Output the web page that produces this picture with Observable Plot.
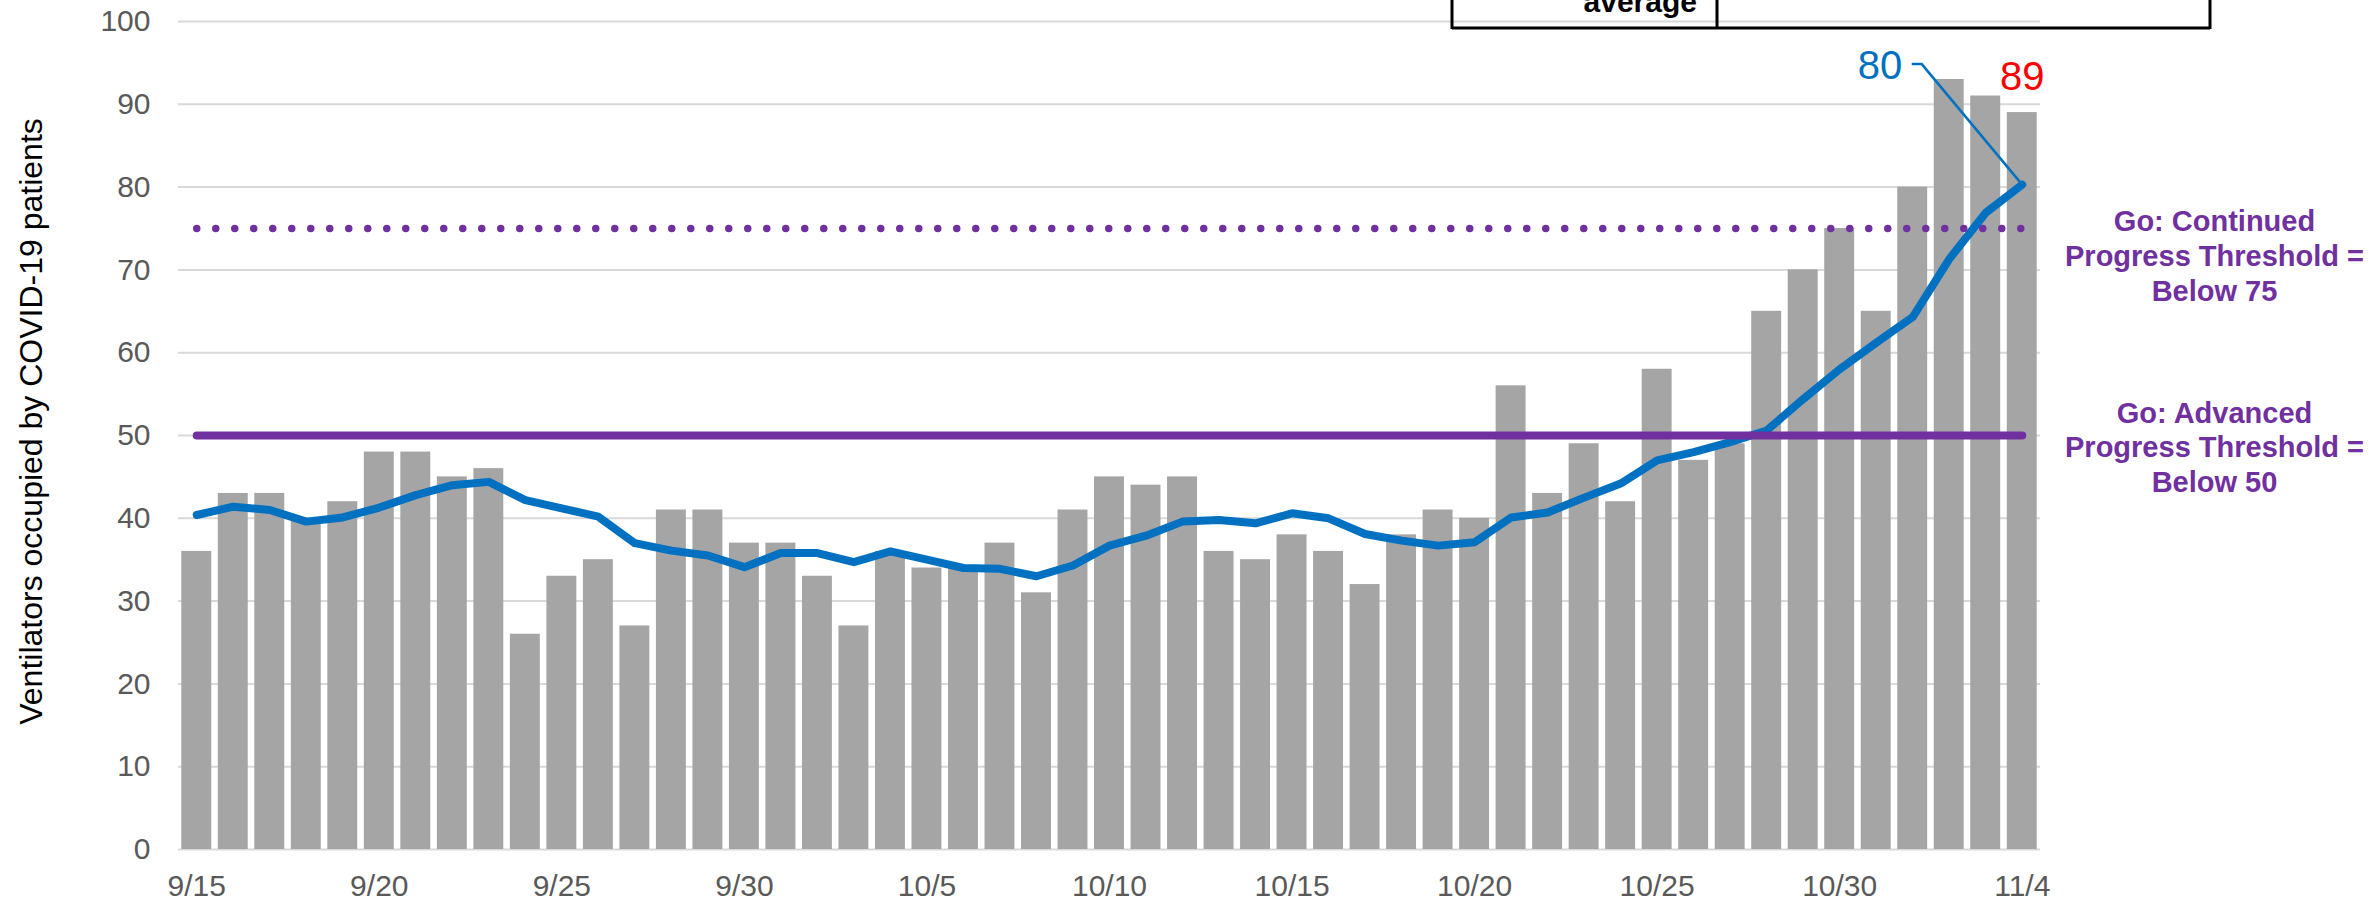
<!DOCTYPE html>
<html><head><meta charset="utf-8">
<script src="https://cdn.jsdelivr.net/npm/d3@7"></script>
<script src="https://cdn.jsdelivr.net/npm/@observablehq/plot@0.6"></script>
<style>
html,body{margin:0;padding:0;background:#fff;}
#chart{position:relative;width:2369px;height:902px;overflow:hidden;}
</style></head><body><div id="chart"></div>
<script>
const dates = ["9/15","9/16","9/17","9/18","9/19","9/20","9/21","9/22","9/23","9/24","9/25","9/26","9/27","9/28","9/29","9/30",
  "10/1","10/2","10/3","10/4","10/5","10/6","10/7","10/8","10/9","10/10","10/11","10/12","10/13","10/14","10/15","10/16",
  "10/17","10/18","10/19","10/20","10/21","10/22","10/23","10/24","10/25","10/26","10/27","10/28","10/29","10/30","10/31",
  "11/1","11/2","11/3","11/4"];
const ventilators = [36,43,43,40,42,48,48,45,46,26,33,35,27,41,41,37,
  37,33,27,36,34,34,37,31,41,45,44,45,36,35,38,36,
  32,38,41,40,56,43,49,42,58,47,49,65,70,75,65,
  80,93,91,89];
const movingAverage = [40.4,41.4,41.0,39.6,40.1,41.3,42.8,44.0,44.4,42.2,41.2,40.2,37.0,36.1,35.5,34.1,
  35.8,35.8,34.7,36.0,35.0,34.0,33.9,33.0,34.3,36.7,37.9,39.6,39.8,39.4,40.6,40.0,
  38.1,37.3,36.7,37.1,40.1,40.7,42.5,44.2,47.0,48.0,49.2,50.6,54.4,58.0,61.2,
  64.3,71.3,76.9,80.3];
const xTickLabels = ["9/15","9/20","9/25","9/30","10/5","10/10","10/15","10/20","10/25","10/30","11/4"];
const yTicks = [0,10,20,30,40,50,60,70,80,90,100];
const continuedThreshold = 75;
const advancedThreshold = 50;
const yLabel = "Ventilators occupied by COVID-19 patients";
const annotationTexts = ["Go: Continued\nProgress Threshold =\nBelow 75", "Go: Advanced\nProgress Threshold =\nBelow 50"];
const annotationY = [71.8, 48.7];
const legendText = "average";

const data = dates.map((d, i) => ({date: d, value: ventilators[i], avg: movingAverage[i]}));
const last = data[data.length - 1];

const chart = Plot.plot({
  width: 2369, height: 902,
  marginLeft: 178, marginRight: 329, marginTop: 21, marginBottom: 53,
  style: {fontFamily: "'Liberation Sans', Arial, sans-serif", fontSize: "30px", color: "#595959", background: "#fff", overflow: "visible"},
  x: {type: "band", domain: dates, round: false, paddingInner: 0.18, paddingOuter: 0.09, ticks: xTickLabels, tickSize: 0, tickPadding: 25, label: null},
  y: {domain: [0, 100], ticks: yTicks, tickSize: 0, tickPadding: 28, label: null},
  marks: [
    Plot.ruleY(yTicks, {stroke: "#d9d9d9", strokeWidth: 2}),
    Plot.barY(data, {x: "date", y: "value", fill: "#a5a5a5"}),
    Plot.line(data, {x: "date", y: "avg", stroke: "#0070c0", strokeWidth: 8, strokeLinejoin: "round", strokeLinecap: "round"}),
    Plot.line(dates, {x: d => d, y: () => advancedThreshold, stroke: "#7030a0", strokeWidth: 8, strokeLinecap: "round"}),
    Plot.line(dates, {x: d => d, y: () => continuedThreshold, stroke: "#7030a0", strokeWidth: 7.5, strokeLinecap: "round", strokeDasharray: "0 19"}),
    Plot.text([last], {x: "date", y: "value", text: d => String(d.value), fill: "#ff0000", fontSize: 40, dy: -35}),
    Plot.text([last], {x: "date", y: "avg", text: d => String(Math.round(d.avg)), fill: "#0070c0", fontSize: 40, textAnchor: "end", dx: -120, dy: -118}),
    Plot.text([yLabel], {frameAnchor: "left", text: d => d, rotate: -90, textAnchor: "middle", dx: -147, dy: -14, fill: "#000", fontSize: 32}),
    Plot.text(annotationTexts, {y: (d, i) => annotationY[i], text: d => d, frameAnchor: "right", textAnchor: "middle", dx: 174, fill: "#7030a0", fontWeight: "bold", fontSize: 29, lineHeight: 1.2})
  ]
});
document.getElementById("chart").appendChild(chart);

// leader line for the moving-average label, from the library's own scales
const xs = chart.scale("x"), ys = chart.scale("y");
const px = xs.apply(last.date) + xs.bandwidth / 2;
const py = ys.apply(last.avg);
const svg = d3.select(chart);
svg.append("path")
  .attr("d", `M${px - 110},${py - 120}h10L${px},${py}`)
  .attr("fill", "none").attr("stroke", "#0070c0").attr("stroke-width", 2.5);

// partially visible legend table at the top
const lg = svg.append("g").attr("stroke", "#000").attr("stroke-width", 3);
lg.append("line").attr("x1", 1452).attr("x2", 1452).attr("y1", 0).attr("y2", 29);
lg.append("line").attr("x1", 1717).attr("x2", 1717).attr("y1", 0).attr("y2", 29);
lg.append("line").attr("x1", 2210).attr("x2", 2210).attr("y1", 0).attr("y2", 29);
lg.append("line").attr("x1", 1452).attr("x2", 2210).attr("y1", 28).attr("y2", 28);
svg.append("text").attr("x", 1697).attr("y", 12).attr("text-anchor", "end")
  .attr("font-weight", "bold").attr("font-size", 30).attr("fill", "#000").text(legendText);
</script></body></html>
